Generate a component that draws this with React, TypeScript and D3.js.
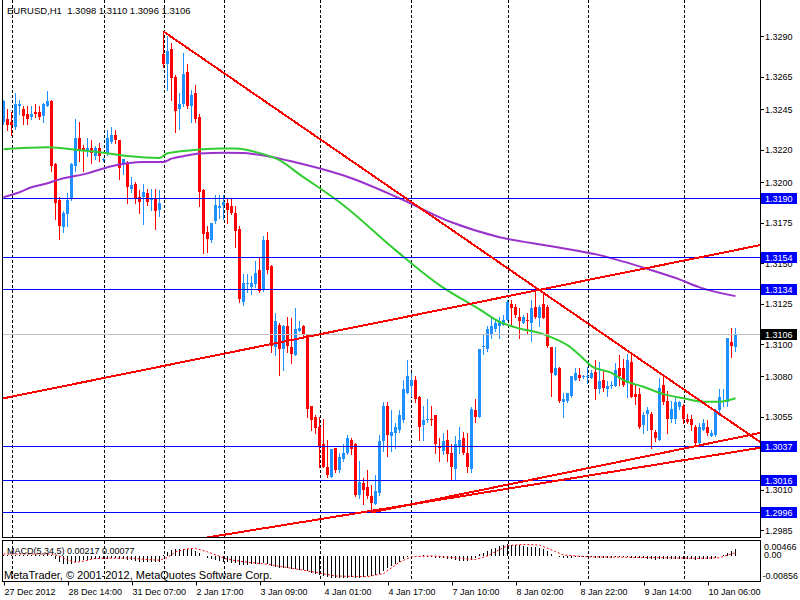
import * as d3 from "d3"

const title = "EURUSD,H1  1.3098 1.3110 1.3096 1.3106"
const macdTitle = "MACD(5,34,5) 0.00217 0.00077"
const copyright = "MetaTrader, © 2001-2012, MetaQuotes Software Corp."

// hourly candles
const opens = [
  1.3237, 1.3239, 1.3237, 1.3234, 1.3247, 1.3245, 1.3242, 1.3240, 1.3243, 1.3243,
  1.3241, 1.3247, 1.3250, 1.3211, 1.3189, 1.3172, 1.3180, 1.3190, 1.3210, 1.3227,
  1.3221, 1.3219, 1.3221, 1.3216, 1.3221, 1.3214, 1.3218, 1.3225, 1.3229, 1.3226,
  1.3212, 1.3212, 1.3196, 1.3199, 1.3191, 1.3191, 1.3193, 1.3189, 1.3190, 1.3183,
  1.3279, 1.3273, 1.3282, 1.3265, 1.3245, 1.3248, 1.3268, 1.3247, 1.3255, 1.3240,
  1.3195, 1.3169, 1.3164, 1.3176, 1.3184, 1.3186, 1.3187, 1.3185, 1.3181, 1.3171,
  1.3126, 1.3137, 1.3135, 1.3137, 1.3146, 1.3134, 1.3164, 1.3148, 1.3098, 1.3112,
  1.3097, 1.3111, 1.3098, 1.3093, 1.3108, 1.3111, 1.3106, 1.3062, 1.3055, 1.3049,
  1.3038, 1.3024, 1.3018, 1.3036, 1.3022, 1.3029, 1.3033, 1.3041, 1.3038, 1.3007,
  1.3014, 1.3012, 1.3006, 1.3001, 1.3008, 1.3040, 1.3062, 1.3043, 1.3045, 1.3047,
  1.3053, 1.3070, 1.3074, 1.3078, 1.3067, 1.3050, 1.3053, 1.3054, 1.3056, 1.3037,
  1.3034, 1.3041, 1.3033, 1.3023, 1.3037, 1.3042, 1.3033, 1.3023, 1.3059, 1.3055,
  1.3098, 1.3097, 1.3106, 1.3109, 1.3111, 1.3112, 1.3115, 1.3125, 1.3123, 1.3117,
  1.3113, 1.3115, 1.3113, 1.3123, 1.3116, 1.3125, 1.3123, 1.3098, 1.3081, 1.3085,
  1.3064, 1.3065, 1.3068, 1.3078, 1.3081, 1.3080, 1.3080, 1.3079, 1.3083, 1.3072,
  1.3078, 1.3072, 1.3074, 1.3074, 1.3085, 1.3085, 1.3076, 1.3089, 1.3069, 1.3069,
  1.3050, 1.3057, 1.3057, 1.3046, 1.3041, 1.3075, 1.3065, 1.3054, 1.3054, 1.3061,
  1.3062, 1.3054, 1.3054, 1.3049, 1.3039, 1.3047, 1.3049, 1.3043, 1.3044, 1.3059,
  1.3064, 1.3064, 1.3101, 1.3098,
]
const highs = [
  1.3251, 1.3245, 1.3243, 1.3255, 1.3251, 1.3247, 1.3247, 1.3247, 1.3248, 1.3247,
  1.3249, 1.3256, 1.3251, 1.3212, 1.3191, 1.3182, 1.3193, 1.3212, 1.3239, 1.3237,
  1.3223, 1.3227, 1.3226, 1.3222, 1.3224, 1.3215, 1.3232, 1.3234, 1.3232, 1.3226,
  1.3214, 1.3213, 1.3203, 1.3200, 1.3195, 1.3199, 1.3196, 1.3196, 1.3196, 1.3195,
  1.3293, 1.3290, 1.3286, 1.3266, 1.3255, 1.3280, 1.3273, 1.3257, 1.3260, 1.3242,
  1.3196, 1.3173, 1.3175, 1.3192, 1.3192, 1.3192, 1.3190, 1.3190, 1.3185, 1.3173,
  1.3143, 1.3143, 1.3142, 1.3151, 1.3153, 1.3167, 1.3169, 1.3149, 1.3119, 1.3113,
  1.3112, 1.3117, 1.3116, 1.3122, 1.3114, 1.3112, 1.3106, 1.3062, 1.3056, 1.3055,
  1.3054, 1.3041, 1.3035, 1.3036, 1.3033, 1.3038, 1.3044, 1.3042, 1.3039, 1.3028,
  1.3017, 1.3022, 1.3013, 1.3019, 1.3044, 1.3064, 1.3064, 1.3059, 1.3051, 1.3059,
  1.3078, 1.3090, 1.3082, 1.3080, 1.3068, 1.3062, 1.3066, 1.3062, 1.3056, 1.3042,
  1.3045, 1.3047, 1.3038, 1.3043, 1.3049, 1.3046, 1.3045, 1.3061, 1.3066, 1.3097,
  1.3106, 1.3111, 1.3117, 1.3115, 1.3117, 1.3118, 1.3127, 1.3127, 1.3125, 1.3122,
  1.3118, 1.3119, 1.3127, 1.3133, 1.3124, 1.3132, 1.3124, 1.3098, 1.3098, 1.3086,
  1.3070, 1.3070, 1.3080, 1.3085, 1.3085, 1.3081, 1.3086, 1.3084, 1.3090, 1.3089,
  1.3084, 1.3077, 1.3077, 1.3088, 1.3093, 1.3091, 1.3094, 1.3095, 1.3075, 1.3073,
  1.3058, 1.3061, 1.3058, 1.3047, 1.3079, 1.3080, 1.3071, 1.3065, 1.3067, 1.3065,
  1.3063, 1.3057, 1.3056, 1.3050, 1.3051, 1.3054, 1.3053, 1.3047, 1.3060, 1.3072,
  1.3072, 1.3104, 1.3110, 1.3110,
]
const lows = [
  1.3236, 1.3232, 1.3229, 1.3233, 1.3242, 1.3236, 1.3236, 1.3239, 1.3240, 1.3239,
  1.3237, 1.3247, 1.3207, 1.3177, 1.3165, 1.3169, 1.3173, 1.3189, 1.3207, 1.3213,
  1.3207, 1.3216, 1.3212, 1.3214, 1.3213, 1.3213, 1.3217, 1.3224, 1.3224, 1.3202,
  1.3205, 1.3187, 1.3194, 1.3187, 1.3181, 1.3174, 1.3186, 1.3183, 1.3171, 1.3179,
  1.3271, 1.3257, 1.3251, 1.3231, 1.3233, 1.3247, 1.3246, 1.3237, 1.3237, 1.3185,
  1.3156, 1.3157, 1.3163, 1.3175, 1.3178, 1.3177, 1.3175, 1.3180, 1.3160, 1.3126,
  1.3124, 1.3132, 1.3131, 1.3135, 1.3132, 1.3133, 1.3144, 1.3095, 1.3093, 1.3081,
  1.3084, 1.3095, 1.3088, 1.3093, 1.3108, 1.3104, 1.3055, 1.3047, 1.3045, 1.3024,
  1.3024, 1.3018, 1.3018, 1.3021, 1.3021, 1.3028, 1.3032, 1.3032, 1.3006, 1.3005,
  1.3001, 1.3005, 1.2996, 1.3001, 1.3007, 1.3034, 1.3031, 1.3034, 1.3036, 1.3046,
  1.3052, 1.3070, 1.3068, 1.3064, 1.3041, 1.3041, 1.3052, 1.3050, 1.3033, 1.3028,
  1.3032, 1.3028, 1.3016, 1.3016, 1.3033, 1.3032, 1.3021, 1.3021, 1.3052, 1.3055,
  1.3094, 1.3096, 1.3104, 1.3108, 1.3104, 1.3112, 1.3115, 1.3111, 1.3117, 1.3104,
  1.3113, 1.3107, 1.3102, 1.3116, 1.3111, 1.3116, 1.3098, 1.3068, 1.3081, 1.3064,
  1.3055, 1.3064, 1.3067, 1.3078, 1.3078, 1.3079, 1.3076, 1.3079, 1.3066, 1.3070,
  1.3071, 1.3068, 1.3073, 1.3074, 1.3075, 1.3074, 1.3067, 1.3067, 1.3063, 1.3048,
  1.3045, 1.3047, 1.3036, 1.3040, 1.3041, 1.3063, 1.3045, 1.3052, 1.3051, 1.3060,
  1.3051, 1.3051, 1.3047, 1.3038, 1.3038, 1.3047, 1.3044, 1.3043, 1.3043, 1.3056,
  1.3062, 1.3062, 1.3092, 1.3096,
]
const closes = [
  1.3250, 1.3235, 1.3235, 1.3248, 1.3248, 1.3241, 1.3239, 1.3242, 1.3242, 1.3240,
  1.3248, 1.3250, 1.3210, 1.3187, 1.3173, 1.3181, 1.3189, 1.3211, 1.3227, 1.3220,
  1.3220, 1.3221, 1.3218, 1.3221, 1.3216, 1.3214, 1.3227, 1.3229, 1.3226, 1.3209,
  1.3214, 1.3197, 1.3198, 1.3190, 1.3188, 1.3194, 1.3188, 1.3190, 1.3182, 1.3187,
  1.3273, 1.3281, 1.3264, 1.3244, 1.3248, 1.3267, 1.3247, 1.3254, 1.3239, 1.3194,
  1.3168, 1.3165, 1.3175, 1.3186, 1.3185, 1.3188, 1.3183, 1.3181, 1.3170, 1.3128,
  1.3138, 1.3138, 1.3138, 1.3144, 1.3133, 1.3164, 1.3146, 1.3099, 1.3114, 1.3097,
  1.3111, 1.3099, 1.3094, 1.3109, 1.3110, 1.3106, 1.3060, 1.3053, 1.3048, 1.3037,
  1.3024, 1.3019, 1.3035, 1.3022, 1.3030, 1.3033, 1.3042, 1.3035, 1.3007, 1.3015,
  1.3010, 1.3006, 1.3002, 1.3009, 1.3040, 1.3062, 1.3044, 1.3046, 1.3049, 1.3056,
  1.3072, 1.3080, 1.3078, 1.3066, 1.3049, 1.3053, 1.3054, 1.3053, 1.3038, 1.3036,
  1.3040, 1.3032, 1.3024, 1.3038, 1.3041, 1.3033, 1.3024, 1.3060, 1.3055, 1.3097,
  1.3099, 1.3109, 1.3111, 1.3113, 1.3114, 1.3115, 1.3126, 1.3122, 1.3118, 1.3114,
  1.3117, 1.3114, 1.3122, 1.3117, 1.3123, 1.3116, 1.3099, 1.3082, 1.3085, 1.3065,
  1.3066, 1.3070, 1.3080, 1.3082, 1.3079, 1.3080, 1.3080, 1.3082, 1.3072, 1.3077,
  1.3073, 1.3074, 1.3075, 1.3084, 1.3080, 1.3075, 1.3090, 1.3067, 1.3067, 1.3049,
  1.3056, 1.3059, 1.3047, 1.3042, 1.3073, 1.3064, 1.3054, 1.3060, 1.3064, 1.3064,
  1.3054, 1.3052, 1.3050, 1.3039, 1.3049, 1.3051, 1.3045, 1.3045, 1.3059, 1.3067,
  1.3065, 1.3104, 1.3099, 1.3106,
]

// moving averages, sampled at bar indices
const greenMaBars = [0, 11, 19, 24, 31, 39, 41, 47, 54, 58, 63, 69, 74, 85, 98, 109, 119, 124, 129, 134, 137, 141, 144, 147, 152, 155, 160, 165, 170, 175, 179, 183]
const greenMa = [
  1.32203, 1.32215, 1.32197, 1.32185, 1.32161, 1.32149, 1.32178, 1.32197, 1.32207, 1.32207,
  1.32186, 1.32135, 1.32048, 1.31857, 1.3158, 1.31364, 1.31214, 1.31137, 1.31096, 1.31069,
  1.31041, 1.30993, 1.30932, 1.30864, 1.30822, 1.30777, 1.30736, 1.30691, 1.30665, 1.30644,
  1.30644, 1.30665,
]
const purpleMaBars = [0, 4, 7, 11, 14, 21, 27, 31, 35, 40, 42, 45, 49, 55, 60, 63, 74, 87, 99, 112, 124, 137, 149, 162, 169, 174, 183]
const purpleMa = [
  1.31906, 1.31937, 1.31968, 1.31993, 1.32017, 1.32054, 1.32098, 1.32116, 1.32124, 1.32124,
  1.32145, 1.3216, 1.32176, 1.32182, 1.3218, 1.32172, 1.32116, 1.32024, 1.319, 1.31752,
  1.3166, 1.31604, 1.31549, 1.31456, 1.31399, 1.3135, 1.31296,
]

// MACD histogram per bar and its signal line (sampled)
const macdHist = [
  0.0003, 0.0003, 0.0002, 0.0003, 0.0004, 0.0004, 0.0003, 0.0003, 0.0003, 0.0003, 0.0004, 0.0005, 0.0002,
  -0.001, -0.0019, -0.0025, -0.0027, -0.0025, -0.0021, -0.0017,
  -0.0014, -0.0012, -0.0011, -0.001, -0.001, -0.0011, -0.0009, -0.0007, -0.0007, -0.0009, -0.001, -0.0012, -0.0014,
  -0.0016, -0.0018, -0.0018, -0.0019, -0.0019, -0.002, -0.002,
  0.0004, 0.0014, 0.0019, 0.0021, 0.0022, 0.0023, 0.0022, 0.0021, 0.0017,
  0.0009, 0.0, -0.0006, -0.001,
  -0.0013, -0.0016, -0.0018, -0.002, -0.0022, -0.0024, -0.0028,
  -0.0029, -0.0028, -0.0027, -0.0026, -0.0027, -0.0024, -0.0026,
  -0.0034, -0.0036, -0.0038, -0.0039, -0.004, -0.0041, -0.0042, -0.0044, -0.0045, -0.005, -0.0054, -0.0057, -0.0061,
  -0.0066, -0.0069, -0.0072, -0.0072, -0.0072, -0.0071, -0.007, -0.0069, -0.0072, -0.0071,
  -0.0068, -0.0066, -0.0065, -0.0062, -0.0058, -0.0048, -0.004, -0.0032, -0.0025, -0.0018,
  -0.001, -0.0004, 0.0, 0.0001, 0.0001, 0.0002,
  -0.0002, -0.0004, -0.0006, -0.0008, -0.0008, -0.0009, -0.001,
  -0.0014, -0.0015, -0.0016, -0.0017, -0.0012, -0.0008,
  0.0006, 0.0011, 0.0016, 0.0022, 0.0027, 0.0031, 0.0034, 0.0038,
  0.0036, 0.0035, 0.0034, 0.0032, 0.003, 0.0029, 0.0028, 0.0026,
  0.0022, 0.0015, 0.0006, 0.0001,
  -0.0003, -0.0006, -0.0006, -0.0005, -0.0004, -0.0004, -0.0004, -0.0004, -0.0004, -0.0005, -0.0005,
  -0.0005, -0.0005, -0.0005, -0.0004, -0.0003, -0.0004, -0.0003, -0.0005, -0.0006, -0.0008, -0.0008,
  -0.0009, -0.0011, -0.0012, -0.001, -0.001, -0.0011, -0.001, -0.0009, -0.0009, -0.0009, -0.001, -0.001,
  -0.0012, -0.0011, -0.0011, -0.0011, -0.001,
  -0.0005, 0.0, 0.0004, 0.0011, 0.0017, 0.00217,
]
const signalBars = [0, 12, 14, 16, 18, 20, 23, 32, 35, 39, 41, 43, 46, 48, 51, 56, 60, 66, 73, 78, 83, 91, 95, 99, 102, 107, 112, 118, 121, 126, 130, 134, 138, 140, 146, 160, 174, 179, 183]
const signalValues = [
  0.0003, 0.0003, -0.0004, -0.0016, -0.0024, -0.002, -0.0011, -0.001, -0.0014, -0.0017,
  -0.0008, 0.001, 0.002, 0.0021, 0.001, -0.0014, -0.0022, -0.003, -0.0045, -0.0056,
  -0.0068, -0.007, -0.006, -0.0023, -0.0006, -0.0003, -0.0008, -0.0015, -0.0003, 0.003,
  0.0034, 0.0032, 0.0011, 0.0, -0.0006, -0.0008, -0.0011, -0.0009, 0.00077,
]

// horizontal levels and the last price
const levels = [1.319, 1.3154, 1.3134, 1.3037, 1.3016, 1.2996]
const lastPrice = 1.3106

// trend lines: two anchor points each (bar index, price)
const trendFrom = [[40, 1.3293], [0, 1.30665], [52, 1.2981], [92, 1.2996]]
const trendTo = [[183, 1.305], [183, 1.3158], [183, 1.30335], [183, 1.3042]]
const trendExtendLeft = [false, true, true, false]

const priceTicks = [1.329, 1.3265, 1.3245, 1.322, 1.32, 1.3175, 1.315, 1.3125, 1.31, 1.308, 1.3055, 1.301, 1.2985]
const macdTicks = [0.00466, 0, -0.00856]
const macdTickLabels = ["0.00466", "0.00", "-0.00856"]

const timeLabels = [
  "27 Dec 2012", "28 Dec 14:00", "31 Dec 07:00", "2 Jan 17:00", "3 Jan 09:00", "4 Jan 01:00",
  "4 Jan 17:00", "7 Jan 10:00", "8 Jan 02:00", "8 Jan 22:00", "9 Jan 14:00", "10 Jan 06:00",
]
const labelEvery = 16
const separatorBars = [2, 25, 40, 55, 79, 102, 126, 146, 170]

const plotLeft = 2.5
const plotRight = 760.5
const mainBottom = 537.5
const macdTop = 540.5
const macdBottom = 581.5
const font = "'Liberation Sans', Arial, sans-serif"

const snap = (v: number) => Math.round(v) + 0.5

export default function App() {
  const n = opens.length
  const x = d3.scaleLinear().domain([0, n - 1]).range([3.5, 3.5 + 4 * (n - 1)])
  const y = d3.scaleLinear().domain([1.3, 1.319]).range([506, 198.3])
  const ym = d3.scaleLinear().domain([-0.00856, 0.00466]).range([macdBottom, macdTop])

  const maLine = d3
    .line<[number, number]>()
    .x((d) => x(d[0]))
    .y((d) => y(d[1]))
    .curve(d3.curveMonotoneX)
  const signalLine = d3
    .line<[number, number]>()
    .x((d) => x(d[0]))
    .y((d) => ym(d[1]))

  const greenPath = maLine(greenMaBars.map((b, i) => [b, greenMa[i]] as [number, number]))
  const purplePath = maLine(purpleMaBars.map((b, i) => [b, purpleMa[i]] as [number, number]))
  const signalPath = signalLine(signalBars.map((b, i) => [b, signalValues[i]] as [number, number]))

  const trends = trendFrom.map((a, k) => {
    const b = trendTo[k]
    const x1 = x(a[0])
    const y1 = y(a[1])
    const slope = (y(b[1]) - y1) / (x(b[0]) - x1)
    const sx = trendExtendLeft[k] ? plotLeft : x1
    return { x1: sx, y1: y1 + slope * (sx - x1), x2: plotRight, y2: y1 + slope * (plotRight - x1) }
  })

  const zero = snap(ym(0))

  return (
    <div style={{ position: "fixed", left: 0, top: 0 }}>
      <svg width={800} height={600} style={{ display: "block", background: "#fff" }} fontFamily={font}>
        <defs>
          <clipPath id="mainClip">
            <rect x={plotLeft} y={0} width={plotRight - plotLeft} height={mainBottom} />
          </clipPath>
          <clipPath id="macdClip">
            <rect x={plotLeft} y={macdTop} width={plotRight - plotLeft} height={macdBottom - macdTop} />
          </clipPath>
        </defs>

        {/* period separators */}
        {separatorBars.map((b) => (
          <g key={b} stroke="#000" strokeDasharray="3,2" strokeWidth={1} shapeRendering="crispEdges">
            <line x1={snap(x(b))} x2={snap(x(b))} y1={0} y2={mainBottom} />
            <line x1={snap(x(b))} x2={snap(x(b))} y1={macdTop} y2={macdBottom} />
          </g>
        ))}

        <g clipPath="url(#mainClip)">
          {/* candles */}
          {opens.map((o, i) => {
            const c = closes[i]
            const color = c >= o ? "#1E90FF" : "#FF0000"
            const top = Math.round(y(Math.max(o, c)))
            const bot = Math.round(y(Math.min(o, c)))
            return (
              <g key={i}>
                <line
                  x1={x(i)}
                  x2={x(i)}
                  y1={Math.round(y(highs[i]))}
                  y2={Math.round(y(lows[i])) + 1}
                  stroke={color}
                  strokeWidth={1}
                  shapeRendering="crispEdges"
                />
                <rect x={x(i) - 1.5} y={top} width={3} height={Math.max(1, bot - top)} fill={color} shapeRendering="crispEdges" />
              </g>
            )
          })}

          {/* moving averages */}
          <path d={purplePath ?? ""} fill="none" stroke="#9932CC" strokeWidth={2} />
          <path d={greenPath ?? ""} fill="none" stroke="#32CD32" strokeWidth={2} />

          {/* last price line */}
          <line x1={plotLeft} x2={plotRight} y1={snap(y(lastPrice))} y2={snap(y(lastPrice))} stroke="#C0C0C0" strokeWidth={1} />

          {/* horizontal levels */}
          {levels.map((v) => (
            <line key={v} x1={plotLeft} x2={plotRight} y1={snap(y(v))} y2={snap(y(v))} stroke="#0000FF" strokeWidth={1} />
          ))}

          {/* trend lines */}
          {trends.map((t, k) => (
            <line key={k} x1={t.x1} y1={t.y1} x2={t.x2} y2={t.y2} stroke="#FF0000" strokeWidth={2} shapeRendering="crispEdges" />
          ))}
        </g>

        {/* MACD */}
        <g clipPath="url(#macdClip)">
          {macdHist.map((v, i) => (
            <line
              key={i}
              x1={x(i)}
              x2={x(i)}
              y1={zero}
              y2={Math.round(ym(v)) + 0.5}
              stroke="#000"
              strokeWidth={1}
              shapeRendering="crispEdges"
            />
          ))}
          <path d={signalPath ?? ""} fill="none" stroke="#FF0000" strokeWidth={1} strokeDasharray="2,2" />
        </g>

        {/* frames */}
        <g stroke="#000" strokeWidth={1} fill="none" shapeRendering="crispEdges">
          <polyline points={`${plotLeft},0 ${plotLeft},${mainBottom} ${plotRight},${mainBottom} ${plotRight},0`} />
          <rect x={plotLeft} y={macdTop} width={plotRight - plotLeft} height={macdBottom - macdTop} />
        </g>

        {/* price axis */}
        {priceTicks.map((p) => (
          <g key={p}>
            <line x1={plotRight} x2={plotRight + 3.5} y1={snap(y(p))} y2={snap(y(p))} stroke="#000" />
            <text x={765} y={y(p) + 3.5} fontSize={9} fill="#000">
              {p.toFixed(4)}
            </text>
          </g>
        ))}
        {levels.map((v) => (
          <g key={v}>
            <rect x={761} y={snap(y(v)) - 5.5} width={36} height={11} fill="#0000FF" />
            <text x={765} y={snap(y(v)) + 3.5} fontSize={9} fill="#fff">
              {v.toFixed(4)}
            </text>
          </g>
        ))}
        <rect x={761} y={snap(y(lastPrice)) - 5.5} width={36} height={11} fill="#000" />
        <text x={765} y={snap(y(lastPrice)) + 3.5} fontSize={9} fill="#fff">
          {lastPrice.toFixed(4)}
        </text>

        {/* MACD axis */}
        {macdTicks.map((v, k) => {
          const ty = k === 0 ? macdTop + 9.5 : k === 2 ? macdBottom - 2.5 : ym(v) + 3.5
          return (
            <text key={k} x={k === 2 ? 762.5 : 764} y={ty} fontSize={9} fill="#000">
              {macdTickLabels[k]}
            </text>
          )
        })}

        {/* time axis */}
        {timeLabels.map((t, k) => {
          const tx = snap(x(k * labelEvery))
          return (
            <g key={t}>
              <line x1={tx} x2={tx} y1={macdBottom} y2={macdBottom + 4} stroke="#000" />
              <text x={tx} y={594.5} fontSize={9} fill="#000">
                {t}
              </text>
            </g>
          )
        })}

        {/* titles */}
        <text x={7} y={14} fontSize={9.5} fill="#000" style={{ whiteSpace: "pre" }}>
          {title}
        </text>
        <text x={7} y={553.5} fontSize={9} fill="#000">
          {macdTitle}
        </text>
        <text x={4} y={579} fontSize={11} fill="#000">
          {copyright}
        </text>
      </svg>
    </div>
  )
}
